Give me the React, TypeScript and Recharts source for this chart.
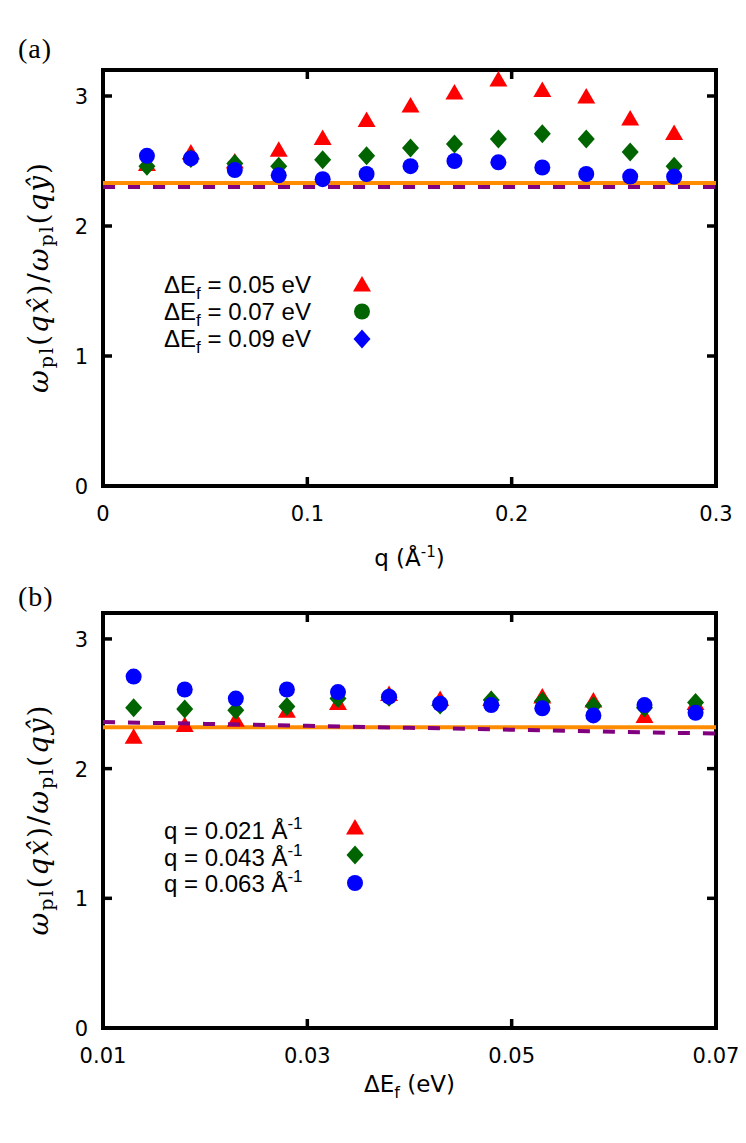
import React from "react";
import {
  ScatterChart,
  Scatter,
  XAxis,
  YAxis,
  ReferenceLine,
  ReferenceArea,
} from "recharts";

// panel (a): ratio vs q for three Fermi-level shifts
const qA = [0.0215, 0.043, 0.0645, 0.086, 0.1075, 0.129, 0.1505, 0.172, 0.1935, 0.215, 0.2365, 0.258, 0.2795];
const ratioA005 = [2.48, 2.57, 2.5, 2.59, 2.68, 2.82, 2.93, 3.03, 3.13, 3.05, 3.0, 2.83, 2.72];
const ratioA007 = [2.46, 2.52, 2.48, 2.46, 2.51, 2.54, 2.6, 2.63, 2.67, 2.71, 2.67, 2.57, 2.46];
const ratioA009 = [2.54, 2.52, 2.43, 2.39, 2.36, 2.4, 2.46, 2.5, 2.49, 2.45, 2.4, 2.38, 2.38];
const orangeA = 2.33;
const purpleA = 2.3;

// panel (b): ratio vs ΔEf for three q values
const efB = [0.013, 0.018, 0.023, 0.028, 0.033, 0.038, 0.043, 0.048, 0.053, 0.058, 0.063, 0.068];
const ratioB021 = [2.25, 2.34, 2.38, 2.45, 2.51, 2.58, 2.54, 2.54, 2.56, 2.53, 2.41, 2.51];
const ratioB043 = [2.47, 2.46, 2.45, 2.48, 2.54, 2.55, 2.49, 2.53, 2.52, 2.485, 2.47, 2.51];
const ratioB063 = [2.71, 2.61, 2.54, 2.61, 2.59, 2.555, 2.5, 2.49, 2.465, 2.41, 2.49, 2.43];
const orangeB = 2.32;
const purpleBEf = [0.01, 0.02, 0.03, 0.04, 0.05, 0.06, 0.07];
const purpleBRatio = [2.36, 2.345, 2.33, 2.315, 2.3, 2.285, 2.27];

const xTicksA = [0, 0.1, 0.2, 0.3];
const xTicksB = [0.01, 0.03, 0.05, 0.07];
const yTicks = [0, 1, 2, 3];
const legendA = ["0.05", "0.07", "0.09"];
const legendB = ["0.021", "0.043", "0.063"];

const RED = "#ff0000";
const GREEN = "#006400";
const BLUE = "#0000ff";
const ORANGE = "#ff8c00";
const PURPLE = "#800080";

const W = 746;
const LEFT = 103;
const RIGHT = 716;
const TICK = 9;
const SANS = "DejaVu Sans";

type Kind = "triangle" | "diamond" | "circle";

function Marker({ kind, cx, cy, color }: { kind: Kind; cx: number; cy: number; color: string }) {
  if (kind === "triangle")
    return <polygon points={`${cx},${cy - 8} ${cx + 9},${cy + 7.5} ${cx - 9},${cy + 7.5}`} fill={color} />;
  if (kind === "diamond")
    return <polygon points={`${cx},${cy - 9.5} ${cx + 8.5},${cy} ${cx},${cy + 9.5} ${cx - 8.5},${cy}`} fill={color} />;
  return <circle cx={cx} cy={cy} r={8} fill={color} />;
}

const toPoints = (xs: number[], ys: number[]) => xs.map((x, i) => ({ x, y: ys[i] }));

const seriesA = [
  { key: "a1", values: ratioA005, color: RED, kind: "triangle" as Kind, legendKind: "triangle" as Kind },
  { key: "a2", values: ratioA007, color: GREEN, kind: "diamond" as Kind, legendKind: "circle" as Kind },
  { key: "a3", values: ratioA009, color: BLUE, kind: "circle" as Kind, legendKind: "diamond" as Kind },
];
const seriesB = [
  { key: "b1", values: ratioB021, color: RED, kind: "triangle" as Kind },
  { key: "b2", values: ratioB043, color: GREEN, kind: "diamond" as Kind },
  { key: "b3", values: ratioB063, color: BLUE, kind: "circle" as Kind },
];

type Geo = { top: number; bottom: number };

const makeXTick = (geo: Geo) => (props: any) => {
  const x = props.payload.coordinate;
  return (
    <g>
      <line x1={x} x2={x} y1={geo.bottom} y2={geo.bottom - TICK} stroke="#000" strokeWidth={3.5} />
      <line x1={x} x2={x} y1={geo.top} y2={geo.top + TICK} stroke="#000" strokeWidth={3.5} />
      <text x={x} y={geo.bottom + 35} textAnchor="middle" fontFamily={SANS} fontSize={21} fill="#000">
        {props.payload.value}
      </text>
    </g>
  );
};

const makeYTick = () => (props: any) => {
  const y = props.payload.coordinate;
  return (
    <g>
      <line x1={LEFT} x2={LEFT + TICK} y1={y} y2={y} stroke="#000" strokeWidth={3.5} />
      <line x1={RIGHT} x2={RIGHT - TICK} y1={y} y2={y} stroke="#000" strokeWidth={3.5} />
      <text x={88} y={y + 8} textAnchor="end" fontFamily={SANS} fontSize={21} fill="#000">
        {props.payload.value}
      </text>
    </g>
  );
};

const yTitle = (geo: Geo) => () => {
  const cy = (geo.top + geo.bottom) / 2;
  const cx = 48;
  return (
    <text
      x={cx}
      y={cy}
      transform={`rotate(-90 ${cx} ${cy})`}
      textAnchor="middle"
      fontFamily="DejaVu Serif"
      fontSize={28}
      textLength={230}
      lengthAdjust="spacing"
      fill="#000"
    >
      <tspan fontStyle="italic">ω</tspan>
      <tspan fontSize={19} dy={5}>pl</tspan>
      <tspan dy={-5}>(</tspan>
      <tspan fontStyle="italic">q</tspan>
      <tspan fontStyle="italic">{"x\u0302"}</tspan>
      <tspan>)/</tspan>
      <tspan fontStyle="italic">ω</tspan>
      <tspan fontSize={19} dy={5}>pl</tspan>
      <tspan dy={-5}>(</tspan>
      <tspan fontStyle="italic">qŷ</tspan>
      <tspan>)</tspan>
    </text>
  );
};

const geoA: Geo = { top: 70, bottom: 486 };
const geoB: Geo = { top: 28, bottom: 443 };

function PanelA() {
  return (
    <ScatterChart width={W} height={585} margin={{ top: 70, right: 30, bottom: 9, left: 33 }}>
      <XAxis
        type="number"
        dataKey="x"
        domain={[0, 0.3]}
        ticks={xTicksA}
        interval={0}
        height={90}
        axisLine={false}
        tickLine={false}
        tickSize={0}
        tickMargin={0}
        tick={makeXTick(geoA)}
        label={{
          content: () => (
            <text x={(LEFT + RIGHT) / 2} y={geoA.bottom + 80} textAnchor="middle" fontFamily={SANS} fontSize={23} fill="#000">
              q (Å<tspan dy={-9} fontSize={15}>-1</tspan>
              <tspan dy={9}>)</tspan>
            </text>
          ),
        }}
      />
      <YAxis
        type="number"
        dataKey="y"
        domain={[0, 3.2]}
        ticks={yTicks}
        interval={0}
        width={70}
        axisLine={false}
        tickLine={false}
        tickSize={0}
        tickMargin={0}
        tick={makeYTick()}
        label={{ content: yTitle(geoA) }}
      />
      {seriesA.map((s) => (
        <Scatter
          key={s.key}
          data={toPoints(qA, s.values)}
          fill={s.color}
          isAnimationActive={false}
          shape={(p: any) => <Marker kind={s.kind} cx={p.cx} cy={p.cy} color={s.color} />}
        />
      ))}
      <ReferenceLine y={purpleA} stroke={PURPLE} strokeWidth={4} strokeDasharray="12 13" />
      <ReferenceLine y={orangeA} stroke={ORANGE} strokeWidth={4} />
      <ReferenceArea x1={0} x2={0.3} y1={0} y2={3.2} fill="none" fillOpacity={0} stroke="#000" strokeWidth={4} />
    </ScatterChart>
  );
}

function PanelB() {
  return (
    <ScatterChart width={W} height={558} margin={{ top: 28, right: 30, bottom: 25, left: 33 }}>
      <XAxis
        type="number"
        dataKey="x"
        domain={[0.01, 0.07]}
        ticks={xTicksB}
        interval={0}
        height={90}
        axisLine={false}
        tickLine={false}
        tickSize={0}
        tickMargin={0}
        tick={makeXTick(geoB)}
        label={{
          content: () => (
            <text x={(LEFT + RIGHT) / 2} y={geoB.bottom + 64} textAnchor="middle" fontFamily={SANS} fontSize={23} fill="#000">
              ΔE<tspan dy={6} fontSize={16}>f</tspan>
              <tspan dy={-6}> (eV)</tspan>
            </text>
          ),
        }}
      />
      <YAxis
        type="number"
        dataKey="y"
        domain={[0, 3.2]}
        ticks={yTicks}
        interval={0}
        width={70}
        axisLine={false}
        tickLine={false}
        tickSize={0}
        tickMargin={0}
        tick={makeYTick()}
        label={{ content: yTitle(geoB) }}
      />
      {seriesB.map((s) => (
        <Scatter
          key={s.key}
          data={toPoints(efB, s.values)}
          fill={s.color}
          isAnimationActive={false}
          shape={(p: any) => <Marker kind={s.kind} cx={p.cx} cy={p.cy} color={s.color} />}
        />
      ))}
      <Scatter
        data={toPoints(purpleBEf, purpleBRatio)}
        fill={PURPLE}
        isAnimationActive={false}
        line={{ stroke: PURPLE, strokeWidth: 4, strokeDasharray: "12 13" }}
        shape={() => <g />}
      />
      <ReferenceLine y={orangeB} stroke={ORANGE} strokeWidth={4} />
      <ReferenceArea x1={0.01} x2={0.07} y1={0} y2={3.2} fill="none" fillOpacity={0} stroke="#000" strokeWidth={4} />
    </ScatterChart>
  );
}

function Overlay() {
  const legendFont = { fontFamily: "Liberation Sans", fontSize: 24, fill: "#000" };
  return (
    <svg width={W} height={1143} style={{ position: "absolute", left: 0, top: 0, pointerEvents: "none" }}>
      <text x={18} y={58} fontFamily="Liberation Serif" fontSize={28} letterSpacing={1}>(a)</text>
      <text x={18} y={606} fontFamily="Liberation Serif" fontSize={28} letterSpacing={1}>(b)</text>
      {legendA.map((label, i) => (
        <g key={label}>
          <text x={164} y={293 + i * 27} {...legendFont}>
            ΔE<tspan dy={6} fontSize={17}>f</tspan>
            <tspan dy={-6}> = {label} eV</tspan>
          </text>
          <Marker kind={seriesA[i].legendKind} cx={362} cy={284 + i * 27.5} color={seriesA[i].color} />
        </g>
      ))}
      {legendB.map((label, i) => (
        <g key={label}>
          <text x={164} y={839 + i * 26.5} {...legendFont}>
            q = {label} Å<tspan dy={-10} fontSize={17}>-1</tspan>
          </text>
          <Marker kind={seriesB[i].kind} cx={355} cy={827 + i * 28} color={seriesB[i].color} />
        </g>
      ))}
    </svg>
  );
}

export default function App() {
  return (
    <div style={{ position: "absolute", left: 0, top: 0, width: W, height: 1143, background: "#fff" }}>
      <div style={{ position: "absolute", left: 0, top: 0 }}>
        <PanelA />
      </div>
      <div style={{ position: "absolute", left: 0, top: 585 }}>
        <PanelB />
      </div>
      <Overlay />
    </div>
  );
}
